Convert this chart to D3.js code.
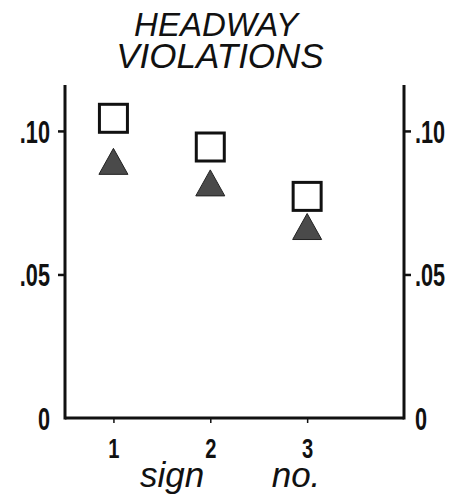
<!DOCTYPE html>
<html>
<head>
<meta charset="utf-8">
<script src="https://cdn.jsdelivr.net/npm/d3@7/dist/d3.min.js"></script>
<style>
  html, body { margin: 0; padding: 0; background: #fff; }
  svg { display: block; }
</style>
</head>
<body>
<svg id="chart" width="451" height="500"></svg>
<script>
// Headway violation rate by sign number
const signs = [1, 2, 3];
const squareValues = [0.1044, 0.0944, 0.0772];
const triangleValues = [0.0894, 0.0819, 0.0667];
const yTicks = [0, 0.05, 0.10];
const yTickLabels = ["0", ".05", ".10"];
const titleLines = ["HEADWAY", "VIOLATIONS"];
const xTitleWords = ["sign", "no."];

const svg = d3.select("#chart");
const plotLeft = 65, plotRight = 404, plotTop = 85, plotBottom = 418;

const x = d3.scaleLinear().domain([0.5, 4]).range([plotLeft, plotRight]);
const y = d3.scaleLinear().domain([0, 0.116]).range([plotBottom, plotTop]);

const ink = "#111";
const numFont = "'Liberation Sans', Arial, sans-serif";

// title
svg.append("g").selectAll("text").data(titleLines).join("text")
  .attr("x", (d, i) => i === 0 ? 216 : 220)
  .attr("y", (d, i) => i === 0 ? 36 : 68)
  .attr("text-anchor", "middle")
  .attr("font-family", numFont)
  .attr("font-style", "italic")
  .attr("font-size", (d, i) => i === 0 ? 33 : 35)
  .attr("fill", ink)
  .text(d => d);

function styleAxis(g) {
  g.select(".domain").remove();
  g.selectAll(".tick line").attr("stroke", ink).attr("stroke-width", 2.5);
  g.selectAll(".tick text")
    .attr("fill", ink)
    .attr("font-family", numFont)
    .attr("font-weight", "bold");
}

// left axis
const yFmt = d => yTickLabels[yTicks.indexOf(d)];
const gl = svg.append("g").attr("transform", `translate(${plotLeft},0)`)
  .call(d3.axisLeft(y).tickValues(yTicks).tickFormat(yFmt).tickSize(7));
styleAxis(gl);
gl.selectAll(".tick text")
  .attr("x", null).attr("dy", "0.36em")
  .attr("font-size", 31)
  .attr("transform", "translate(-15,0) scale(0.7,1)");
gl.selectAll(".tick").filter(d => d === 0).select("line").remove();

// right axis
const gr = svg.append("g").attr("transform", `translate(${plotRight},0)`)
  .call(d3.axisRight(y).tickValues(yTicks).tickFormat(yFmt).tickSize(7));
styleAxis(gr);
gr.selectAll(".tick text")
  .attr("x", null).attr("dy", "0.36em")
  .attr("font-size", 31)
  .attr("transform", "translate(11,0) scale(0.7,1)");
gr.selectAll(".tick").filter(d => d === 0).select("line").remove();

// bottom axis
const gb = svg.append("g").attr("transform", `translate(0,${plotBottom})`)
  .call(d3.axisBottom(x).tickValues(signs).tickFormat(d3.format("d")).tickSize(5));
styleAxis(gb);
gb.selectAll(".tick line").attr("stroke-width", 1.5);
gb.selectAll(".tick text")
  .attr("y", null).attr("dy", null)
  .attr("font-size", 28)
  .attr("transform", "translate(0,40) scale(0.72,1)");

// frame lines: left, bottom, right
const frame = svg.append("g").attr("stroke", ink).attr("stroke-width", 3).attr("fill", "none");
frame.append("line").attr("x1", plotLeft).attr("x2", plotLeft).attr("y1", plotTop).attr("y2", plotBottom + 1.5);
frame.append("line").attr("x1", plotLeft).attr("x2", plotRight).attr("y1", plotBottom).attr("y2", plotBottom);
frame.append("line").attr("x1", plotRight).attr("x2", plotRight).attr("y1", plotTop).attr("y2", plotBottom + 1.5);

// x axis title
svg.append("g").selectAll("text").data(xTitleWords).join("text")
  .attr("x", (d, i) => i === 0 ? 172 : 296)
  .attr("y", 487)
  .attr("text-anchor", "middle")
  .attr("font-family", numFont)
  .attr("font-style", "italic")
  .attr("font-size", 35)
  .attr("fill", ink)
  .text(d => d);

// open squares
const sq = 28;
svg.append("g").selectAll("rect").data(signs).join("rect")
  .attr("x", d => x(d) - sq / 2)
  .attr("y", (d, i) => y(squareValues[i]) - sq / 2)
  .attr("width", sq).attr("height", sq)
  .attr("fill", "#fff")
  .attr("stroke", ink)
  .attr("stroke-width", 3);

// filled triangles
const tw = 29, th = 26;
svg.append("g").selectAll("path").data(signs).join("path")
  .attr("d", (d, i) => {
    const cx = x(d), cy = y(triangleValues[i]);
    return `M${cx},${cy - th / 2}L${cx + tw / 2},${cy + th / 2}L${cx - tw / 2},${cy + th / 2}Z`;
  })
  .attr("fill", "#4a4a4a")
  .attr("stroke", "#222")
  .attr("stroke-width", 1);
</script>
</body>
</html>
